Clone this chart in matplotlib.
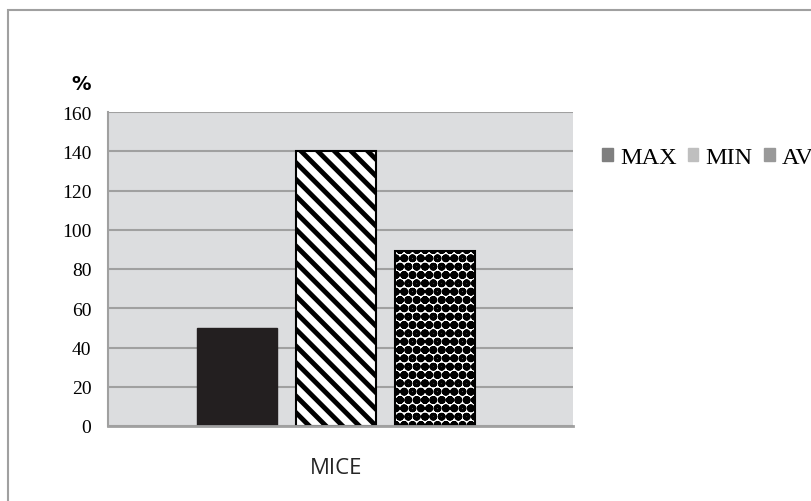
import matplotlib
matplotlib.use('Agg')
import matplotlib.pyplot as plt
from matplotlib.patches import Rectangle

# values per series for the single group
group = 'MICE'
series = ['MAX', 'MIN', 'AV']
values = [50, 140, 89]
yticks = [0, 20, 40, 60, 80, 100, 120, 140, 160]

fig = plt.figure(figsize=(8.12, 5.02), dpi=100)

# outer chart frame
fig.patches.append(Rectangle((8 / 812, -0.1), 1.0, (502 - 11) / 502 + 0.1,
                             transform=fig.transFigure, fill=False,
                             edgecolor='#a0a0a0', linewidth=1.5))

ax = fig.add_axes([108 / 812, 1 - 427 / 502, (573 - 108) / 812, (427 - 113) / 502])
ax.set_facecolor('#dcdddf')
ax.set_ylim(0, 160)
ax.set_xlim(-0.4903, 0.5097)
ax.set_yticks(yticks)
ax.set_yticklabels([str(t) for t in yticks], family='Liberation Serif', fontsize=14)
ax.tick_params(axis='y', length=0, pad=12)
ax.set_xticks([0])
ax.set_xticklabels([group], family='Open Sans', fontsize=16, color='#262626')
ax.tick_params(axis='x', length=0, pad=22)
ax.yaxis.grid(True, color='#a0a0a0', linewidth=1.5)
ax.set_axisbelow(True)
for side in ['top', 'right']:
    ax.spines[side].set_visible(False)
ax.spines['left'].set_color('#a0a0a0')
ax.spines['bottom'].set_color('#a0a0a0')
ax.spines['left'].set_linewidth(1.5)
ax.spines['bottom'].set_linewidth(2)

width = 0.172
offsets = [-0.212, 0.0, 0.212]

# solid bar
ax.bar(offsets[0], values[0], width, color='#231f20', edgecolor='#231f20')

# diagonal stripes
plt.rcParams['hatch.linewidth'] = 3.5
ax.bar(offsets[1], values[1], width, color='white', edgecolor='black',
       hatch='\\\\', linewidth=1.5)

# dotted checker pattern
plt.rcParams['hatch.linewidth'] = 3.2
ax.bar(offsets[2], values[2], width, color='white', edgecolor='black',
       hatch='oo', linewidth=1.5)

# legend with plain grey swatches (runs off the right edge)
legend_colors = ['#7f7f7f', '#bfbfbf', '#999999']
handles = [Rectangle((0, 0), 1, 1, color=c) for c in legend_colors]
fig.legend(handles, series, loc='center left', bbox_to_anchor=(602 / 812, 1 - 159 / 502),
           ncol=3, frameon=False, handlelength=0.45, handleheight=0.45,
           handletextpad=0.29, columnspacing=0.45, borderpad=0, borderaxespad=0,
           prop={'family': 'Liberation Serif', 'size': 17.5})

fig.text(81 / 812, 1 - 84 / 502, '%', family='DejaVu Sans', fontweight='bold',
         fontsize=14, ha='center', va='center')

plt.savefig('out.png', dpi=100)
